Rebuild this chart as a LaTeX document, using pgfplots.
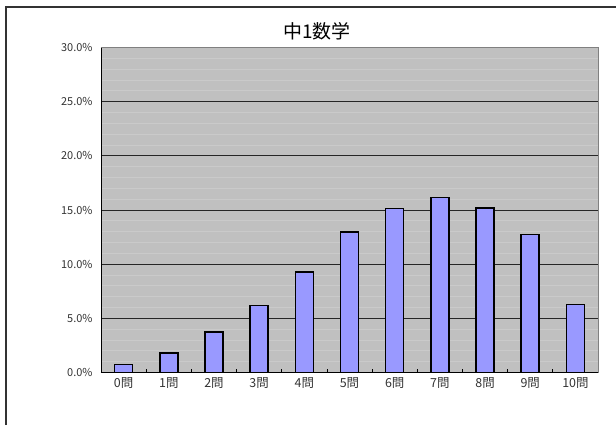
\documentclass[border=0pt]{standalone}
\usepackage{fontspec}
\setmainfont{Noto Sans CJK JP}
\usepackage{pgfplots}
\pgfplotsset{compat=1.18}
\definecolor{bg}{HTML}{C0C0C0}
\definecolor{barc}{HTML}{9999FF}
\definecolor{minorg}{HTML}{CACACA}
\begin{document}
\begin{tikzpicture}[x=1bp,y=1bp]
\path[use as bounding box] (-101,-52.5) rectangle (515,372.5);
\draw[color=black!80, line width=1.2bp] (-95,-52.5) -- (-95,365.5) -- (515,365.5);
\begin{axis}[
  at={(0,0)}, anchor=south west,
  scale only axis, width=497bp, height=325bp,
  xmin=-0.5, xmax=10.5, ymin=0, ymax=30,
  axis lines*=left,
  axis line style={black, line width=0.8bp},
  axis background/.style={fill=bg},
  xtick={0,...,10},
  xticklabels={0問,1問,2問,3問,4問,5問,6問,7問,8問,9問,10問},
  minor xtick={0.5,1.5,...,9.5},
  ytick={0,5,...,30},
  minor ytick={1,2,3,4,6,7,8,9,11,12,13,14,16,17,18,19,21,22,23,24,26,27,28,29},
  major tick length=0pt, minor tick length=3.5bp, tick align=inside,
  minor y tick style={draw=none},
  minor x tick style={black, line width=0.8bp},
  ymajorgrids, yminorgrids,
  major grid style={black!85, line width=0.8bp},
  minor grid style={minorg, line width=0.8bp},
  yticklabel={\pgfmathprintnumber[fixed,fixed zerofill,precision=1]{\tick}\%},
  /pgf/number format/assume math mode=true,
  tick label style={text=black!80},
  yticklabel style={font=\fontsize{11}{12}\selectfont, xshift=-5bp},
  xticklabel style={font=\fontsize{12.5}{13}\selectfont, yshift=-2bp},
  title={中1数学},
  title style={font=\fontsize{19}{21}\selectfont, at={(0.435,1)}, yshift=-2bp},
  clip=false,
]
\addplot[ybar, bar width=18bp, fill=barc, draw=black, line width=1.5bp] coordinates {
(0,0.74) (1,1.79) (2,3.73) (3,6.19) (4,9.30) (5,12.97) (6,15.12) (7,16.14) (8,15.18) (9,12.72) (10,6.28)
};
\draw[gray, line width=0.9bp] (rel axis cs:0,1) -- (rel axis cs:1,1) -- (rel axis cs:1,0);
\end{axis}
\end{tikzpicture}
\end{document}
